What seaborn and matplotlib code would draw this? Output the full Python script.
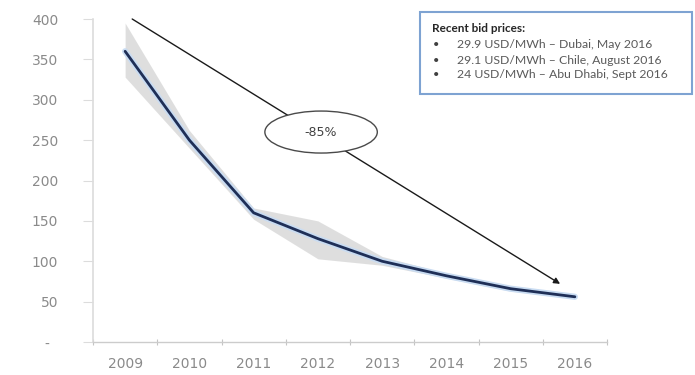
import matplotlib
matplotlib.use("Agg")
import matplotlib.pyplot as plt
from matplotlib.patches import Ellipse, Rectangle
import pandas as pd
import seaborn as sns

# Solar PV bid price trend (USD/MWh) with the low/high range per year
years = ["2009", "2010", "2011", "2012", "2013", "2014", "2015", "2016"]
price_mid = [360, 250, 160, 128, 100, 82, 66, 56]
price_low = [328, 240, 152, 103, 95, 79, 63, 54]
price_high = [395, 262, 166, 150, 106, 85, 68, 57]

y_ticks = [0, 50, 100, 150, 200, 250, 300, 350, 400]
y_tick_labels = ["-  ", "50", "100", "150", "200", "250", "300", "350", "400"]

change_label = "-85%"
box_title = "Recent bid prices:"
box_items = [
    "29.9 USD/MWh \u2013 Dubai, May 2016",
    "29.1 USD/MWh \u2013 Chile, August 2016",
    "24 USD/MWh \u2013 Abu Dhabi, Sept 2016",
]

rows = []
for i, yr in enumerate(years):
    for v in (price_low[i], price_mid[i], price_high[i]):
        rows.append({"year": yr, "price": v})
df = pd.DataFrame(rows)
df_mid = pd.DataFrame({"year": years, "price": price_mid})

sns.set_style("white")
plt.rcParams["font.family"] = ["DejaVu Sans"]

W, H = 695, 375
fig = plt.figure(figsize=(W / 100, H / 100), dpi=100)
ax = fig.add_axes([93 / W, 1 - 342 / H, (607 - 93) / W, (342 - 19) / H])

# range band
sns.lineplot(data=df, x="year", y="price", estimator="median",
             errorbar=("pi", 100), color="#d4d4d4", linewidth=0,
             err_kws={"alpha": 0.75, "linewidth": 0}, ax=ax)
# soft halo and main line
sns.lineplot(data=df_mid, x="year", y="price", errorbar=None,
             color="#c9dcf2", linewidth=4.5, ax=ax, solid_capstyle="round")
sns.lineplot(data=df_mid, x="year", y="price", errorbar=None,
             color="#1f2f57", linewidth=2.0, ax=ax)

ax.set_xlim(-0.5, len(years) - 0.5)
ax.set_ylim(0, 400)
ax.set_xlabel("")
ax.set_ylabel("")

ax.set_yticks(y_ticks)
ax.set_yticklabels(y_tick_labels)
ax.set_xticks(range(len(years)))
ax.set_xticklabels(years)
ax.set_xticks([i - 0.5 for i in range(len(years) + 1)], minor=True)

tick_col = "#8a8a8a"
ax.tick_params(axis="y", which="major", length=7, width=0.8, color="#dcdcdc",
               labelsize=10, labelcolor=tick_col, pad=18, left=True)
ax.tick_params(axis="x", which="major", length=0, labelsize=10,
               labelcolor=tick_col, pad=11)
ax.tick_params(axis="x", which="minor", length=5, width=0.8, color="#c4c4c4",
               direction="inout", bottom=True)
for lbl in ax.get_xticklabels() + ax.get_yticklabels():
    lbl.set_fontstretch("expanded")

for side in ("top", "right"):
    ax.spines[side].set_visible(False)
ax.spines["left"].set_color("#dcdcdc")
ax.spines["bottom"].set_color("#cccccc")
ax.spines["left"].set_linewidth(1.2)
ax.spines["bottom"].set_linewidth(1.0)

# overall change arrow with its label
ax.annotate("", xy=(6.77, 72), xytext=(0.11, 400),
            arrowprops=dict(arrowstyle="-|>", color="#1a1a1a", lw=1.0,
                            mutation_scale=9, shrinkA=0, shrinkB=0),
            annotation_clip=False, zorder=4)
ax.add_patch(Ellipse((3.05, 260), width=1.75, height=52, facecolor="white",
                     edgecolor="#4a4a4a", linewidth=1.0, zorder=5))
ax.text(3.05, 260, change_label, ha="center", va="center", fontsize=9,
        color="#404040", zorder=6)

# bid price note box
fig.patches.append(Rectangle((420 / W, 1 - 94 / H), 272 / W, 82 / H,
                             transform=fig.transFigure, facecolor="white",
                             edgecolor="#7ea3d2", linewidth=1.5))
note_font = ["Lato", "DejaVu Sans"]
fig.text(432 / W, 1 - 29 / H, box_title, fontsize=8.5, fontweight="bold",
         color="#262626", va="center", family=note_font)
for k, item in enumerate(box_items):
    yy = 1 - (45 + 15 * k) / H
    fig.text(433 / W, yy, "\u2022", fontsize=8, color="#404040", va="center",
             family=note_font)
    fig.text(457 / W, yy, item, fontsize=8.8, color="#5a5a5a", va="center",
             family=note_font)

fig.savefig("out.png", dpi=100)
